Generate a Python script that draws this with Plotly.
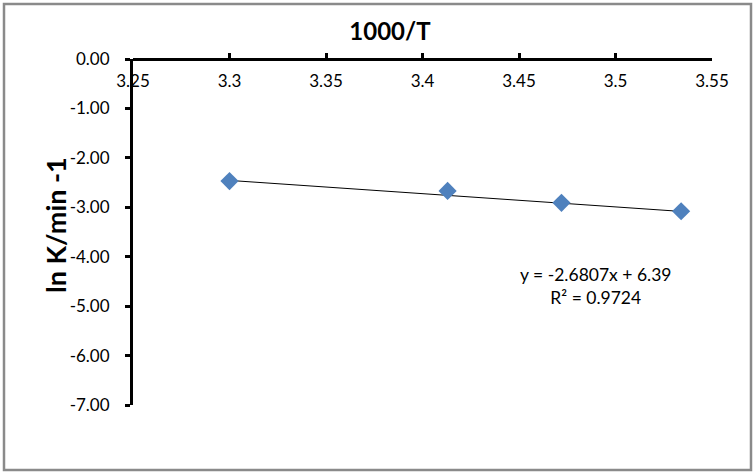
import plotly.graph_objects as go
import numpy as np

# Data
inv_T = [3.300, 3.413, 3.472, 3.534]          # 1000/T
ln_k = [-2.47, -2.67, -2.91, -3.08]           # ln K / min^-1
slope, intercept, r2 = -2.6807, 6.39, 0.9724  # Excel trendline
x_ticks = [3.25, 3.3, 3.35, 3.4, 3.45, 3.5, 3.55]
x_tick_text = ["3.25", "3.3", "3.35", "3.4", "3.45", "3.5", "3.55"]
y_ticks = [0, -1, -2, -3, -4, -5, -6, -7]
y_tick_text = ["0.00", "-1.00", "-2.00", "-3.00", "-4.00", "-5.00", "-6.00", "-7.00"]

FONT = "Lato"
W, H = 756, 476
ML, MR, MT, MB = 133, 44, 59, 71
pw, ph = W - ML - MR, H - MT - MB

trend_x = np.array([min(inv_T), max(inv_T)])
trend_y = slope * trend_x + intercept

fig = go.Figure()
fig.add_trace(go.Scatter(x=trend_x, y=trend_y, mode="lines",
                         line=dict(color="black", width=1), hoverinfo="skip",
                         showlegend=False))
fig.add_trace(go.Scatter(x=inv_T, y=ln_k, mode="markers",
                         marker=dict(symbol="diamond", size=14, color="#4F81BD",
                                     line=dict(width=0)),
                         showlegend=False))

def px2paper_x(px):
    return (px - ML) / pw

def px2paper_y(py):
    return (H - MB - py) / ph

fig.update_layout(
    width=W, height=H,
    margin=dict(l=ML, r=MR, t=MT, b=MB),
    paper_bgcolor="white", plot_bgcolor="white",
    font=dict(family=FONT, color="black", size=17),
    title=dict(text="<b>1000/T</b>", x=390 / W,
               xanchor="center", y=1 - 32 / H, yanchor="middle",
               font=dict(size=24, family=FONT, color="black")),
    xaxis=dict(range=[3.25, 3.55], side="bottom", anchor="free", position=1,
               tickvals=x_ticks, ticktext=x_tick_text, showgrid=False,
               zeroline=False, showline=True, linecolor="black", linewidth=3,
               ticks="inside", ticklen=5, tickwidth=3, tickcolor="black",
               ticklabelstandoff=6,
               tickfont=dict(size=17, family=FONT)),
    yaxis=dict(range=[-7, 0], tickvals=y_ticks, ticktext=y_tick_text,
               showgrid=False, zeroline=False, showline=True,
               linecolor="black", linewidth=3, ticks="outside", ticklen=5,
               tickwidth=3, tickcolor="black", ticklabelstandoff=12,
               tickfont=dict(size=17, family=FONT)),
    shapes=[dict(type="rect", xref="paper", yref="paper",
                 x0=px2paper_x(4), x1=px2paper_x(751),
                 y0=px2paper_y(470), y1=px2paper_y(4),
                 line=dict(color="#8a8a8a", width=2.5), layer="below")],
    annotations=[
        dict(text="<b>ln K/min -1</b>", textangle=-90, xref="paper", yref="paper",
             x=px2paper_x(55), y=px2paper_y(225), xanchor="center",
             yanchor="middle", showarrow=False,
             font=dict(size=27, family=FONT, color="black")),
        dict(text=f"y = {slope}x + {intercept}<br>R\u00b2 = {r2}",
             xref="paper", yref="paper", x=px2paper_x(596), y=px2paper_y(286),
             xanchor="center", yanchor="middle", align="center",
             showarrow=False, font=dict(size=17.5, family=FONT, color="black")),
    ],
)

fig.write_html("out.html")
